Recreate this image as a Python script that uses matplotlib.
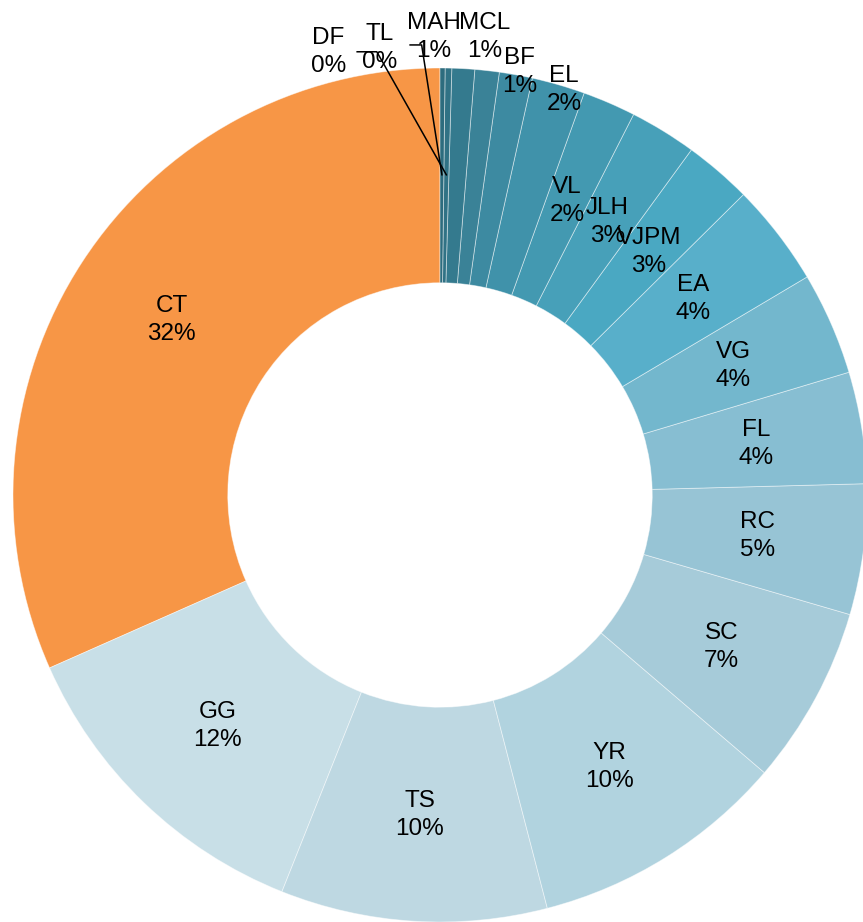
import numpy as np
import matplotlib
matplotlib.use("Agg")
import matplotlib.pyplot as plt

plt.rcParams["font.family"] = ["Liberation Sans", "DejaVu Sans"]

# share of each group, in percent
labels = ["CT", "GG", "TS", "YR", "SC", "RC", "FL", "VG", "EA",
          "VJPM", "JLH", "VL", "EL", "BF", "MCL", "MAH", "TL", "DF"]
values = [31.64, 12.33, 10.08, 9.69, 6.75, 4.94, 4.22, 3.89, 3.89,
          2.56, 2.53, 2.01, 2.01, 1.25, 0.92, 0.86, 0.25, 0.19]
colors = ["#F79646", "#C8DFE7", "#BED8E2", "#B1D3DF", "#A6CBD9", "#97C4D5",
          "#87BED2", "#73B7CD", "#58AFCA", "#4AA8C2", "#47A0B9", "#4399B1",
          "#4092AA", "#3D8AA1", "#3A8297", "#347A8E", "#307285", "#2D6C7E"]

# labels that sit outside the ring (data coords, ring radius = 1)
outside = {
    "EL": (0.290, 0.948),
    "BF": (0.187, 0.991),
    "MCL": (0.105, 1.073),
    "MAH": (-0.014, 1.073),
    "TL": (-0.141, 1.047),
    "DF": (-0.262, 1.037),
}
# leader lines: slice -> elbow -> end
leaders = {
    "TL": [(-0.148, 1.038), (-0.194, 1.038)],
    "DF": [(-0.043, 1.054), (-0.070, 1.054)],
}

W, H = 863, 922
cx, cy, R = 440, 495, 427

fig = plt.figure(figsize=(W / 100, H / 100), dpi=100)
ax = fig.add_axes([0, 0, 1, 1])

wedges, _ = ax.pie(values, colors=colors, startangle=90, counterclock=True,
                   radius=1.0, wedgeprops=dict(width=0.503, edgecolor=(1, 1, 1, 0.5),
                                               linewidth=0.6))

ax.set_xlim(-cx / R, (W - cx) / R)
ax.set_ylim((cy - H) / R, cy / R)
ax.set_aspect("auto")
ax.axis("off")

total = sum(values)
fs = 17.5
for w, lab, v in zip(wedges, labels, values):
    txt = "%s\n%d%%" % (lab, int(round(v / total * 100)))
    mid = np.deg2rad((w.theta1 + w.theta2) / 2)
    if lab in outside:
        x, y = outside[lab]
    else:
        x, y = 0.75 * np.cos(mid), 0.75 * np.sin(mid)
    ax.text(x, y, txt, ha="center", va="center", fontsize=fs,
            linespacing=1.35, color="black")
    if lab in leaders:
        pts = [(0.75 * np.cos(mid), 0.75 * np.sin(mid))] + leaders[lab]
        xs, ys = zip(*pts)
        ax.plot(xs, ys, color="black", lw=1.1)

fig.savefig("out.png", dpi=100)
